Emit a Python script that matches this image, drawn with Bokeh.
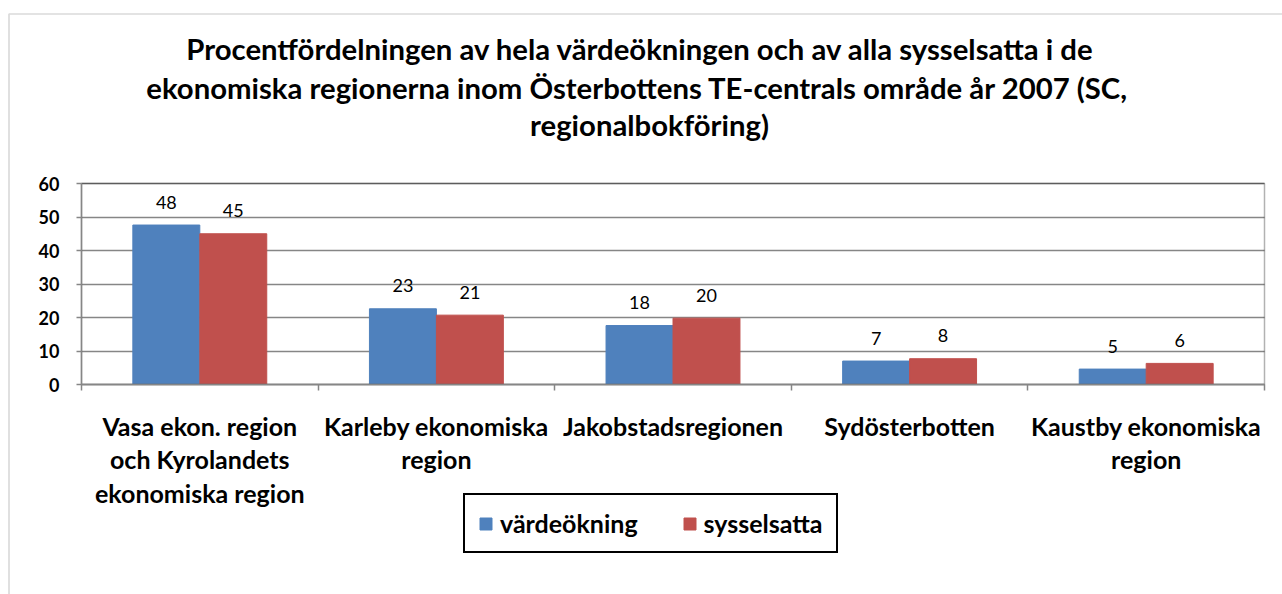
from bokeh.plotting import figure
from bokeh.models import (ColumnDataSource, Range1d, FixedTicker, LabelSet, Legend,
                          LegendItem, Label, BoxAnnotation)
from bokeh.core.properties import value
from bokeh.transform import dodge
from bokeh.embed import file_html
from bokeh.resources import INLINE

title_lines = [
    "Procentfördelningen av hela värdeökningen och av alla sysselsatta i de",
    "ekonomiska regionerna  inom Österbottens TE-centrals område år 2007 (SC,",
    "regionalbokföring)",
]
categories = [
    "Vasa ekon. region\noch Kyrolandets\nekonomiska region",
    "Karleby ekonomiska\nregion",
    "Jakobstadsregionen",
    "Sydösterbotten",
    "Kaustby ekonomiska\nregion",
]
series_names = ["värdeökning", "sysselsatta"]
vardeokning = [47.6, 22.6, 17.6, 7.0, 4.6]
sysselsatta = [45.0, 20.7, 19.8, 7.7, 6.3]
y_ticks = [0, 10, 20, 30, 40, 50, 60]
Y_MAX = 60

BLUE = "#4F81BD"
RED = "#C0504D"
GRID = "#868686"
FONT = "Lato"

# ---- layout (pixels); the frame covers the whole canvas ----
W, H = 1282, 594
PLOT_LEFT, PLOT_RIGHT, PLOT_TOP, PLOT_ZERO = 81, 1264, 183, 384
n = len(categories)
x_per_px = n / (PLOT_RIGHT - PLOT_LEFT)
y_per_px = Y_MAX / (PLOT_ZERO - PLOT_TOP)


def px_x(px):
    return (px - PLOT_LEFT) * x_per_px


def px_y(py):
    return (PLOT_ZERO - py) * y_per_px


centers = [i + 0.5 for i in range(n)]
src = ColumnDataSource(dict(
    x=centers,
    v=vardeokning,
    s=sysselsatta,
    vl=[str(int(round(a))) for a in vardeokning],
    sl=[str(int(round(a))) for a in sysselsatta],
))

p = figure(width=W, height=H, output_backend="svg", toolbar_location=None,
           x_range=Range1d(px_x(0), px_x(W)), y_range=Range1d(px_y(H), px_y(0)),
           min_border=0, title=None)
p.background_fill_color = "white"
p.border_fill_color = "white"
p.outline_line_color = None

# outer chart-area border (gray, only left/top visible)
p.add_layout(BoxAnnotation(left=px_x(8.5), top=px_y(13.5), right=px_x(W + 20),
                           bottom=px_y(H + 20), fill_alpha=0, line_color="#878787",
                           line_width=1.7, level="underlay"))
# plot-area border (top/right black; left/bottom covered by the axes)
p.add_layout(BoxAnnotation(left=0, right=n, bottom=0, top=Y_MAX,
                           fill_alpha=0, line_color="black", line_width=1.5,
                           level="glyph"))

BW = 0.283
rv = p.vbar(x=dodge("x", -BW / 2), top="v", width=BW, source=src,
            fill_color=BLUE, line_color=BLUE)
rs = p.vbar(x=dodge("x", BW / 2), top="s", width=BW, source=src,
            fill_color=RED, line_color=RED)

for col, lab, off in (("v", "vl", -BW / 2), ("s", "sl", BW / 2)):
    p.add_layout(LabelSet(x=dodge("x", off), y=col, text=lab, source=src,
                          text_align="center", text_baseline="middle", y_offset=23,
                          text_font=value(FONT), text_font_size="18px",
                          text_color="black"))

# y axis at x = 0
p.yaxis.fixed_location = 0
p.yaxis.ticker = FixedTicker(ticks=y_ticks)
p.yaxis.bounds = (0, Y_MAX)
p.yaxis.axis_line_color = GRID
p.yaxis.axis_line_width = 1.5
p.yaxis.major_tick_line_color = GRID
p.yaxis.major_tick_line_width = 1.5
p.yaxis.major_tick_out = 5
p.yaxis.major_tick_in = 0
p.yaxis.minor_tick_line_color = None
p.yaxis.major_label_text_font = FONT
p.yaxis.major_label_text_font_style = "bold"
p.yaxis.major_label_text_font_size = "18px"
p.yaxis.major_label_text_color = "black"
p.yaxis.major_label_standoff = 17

# x axis at y = 0: labels at category centres, tick marks at boundaries
p.xaxis.fixed_location = 0
p.xaxis.ticker = FixedTicker(ticks=centers, minor_ticks=list(range(n + 1)))
p.xaxis.bounds = (0, n)
p.xaxis.major_label_overrides = {c: lab for c, lab in zip(centers, categories)}
p.xaxis.axis_line_color = GRID
p.xaxis.axis_line_width = 1.5
p.xaxis.major_tick_line_color = None
p.xaxis.major_tick_out = 0
p.xaxis.major_tick_in = 0
p.xaxis.minor_tick_line_color = GRID
p.xaxis.minor_tick_line_width = 1.5
p.xaxis.minor_tick_out = 6
p.xaxis.minor_tick_in = 0
p.xaxis.major_label_text_font = FONT
p.xaxis.major_label_text_font_style = "bold"
p.xaxis.major_label_text_font_size = "25px"
p.xaxis.major_label_text_line_height = 1.13
p.xaxis.major_label_text_color = "black"
p.xaxis.major_label_standoff = 20

p.xgrid.grid_line_color = None
p.ygrid.ticker = FixedTicker(ticks=y_ticks)
p.ygrid.bounds = (0, Y_MAX)
p.ygrid.cross_bounds = (0, n)
p.ygrid.grid_line_color = GRID
p.ygrid.grid_line_width = 1.5

# title lines (centre x, baseline y in pixels)
title_pos = [(640, 48), (640.5, 87), (649, 124)]
for line, (cx, by) in zip(title_lines, title_pos):
    p.add_layout(Label(x=px_x(cx), y=px_y(by), text=line, text_align="center",
                       text_baseline="alphabetic", text_font=FONT,
                       text_font_style="bold", text_font_size="29.3px",
                       text_color="black"))

legend = Legend(items=[LegendItem(label=series_names[0], renderers=[rv]),
                       LegendItem(label=series_names[1], renderers=[rs])],
                orientation="horizontal", location=(463, H - 553),
                border_line_color="black", border_line_width=2,
                border_line_alpha=1.0,
                padding=13, spacing=44, label_standoff=7,
                glyph_width=15, glyph_height=15, label_height=19,
                label_text_font=FONT, label_text_font_style="bold",
                label_text_font_size="25px", label_text_color="black",
                background_fill_color="white",
                background_fill_alpha=1.0, margin=0)
p.add_layout(legend, "center")

open("out.html", "w").write(file_html(p, INLINE))
